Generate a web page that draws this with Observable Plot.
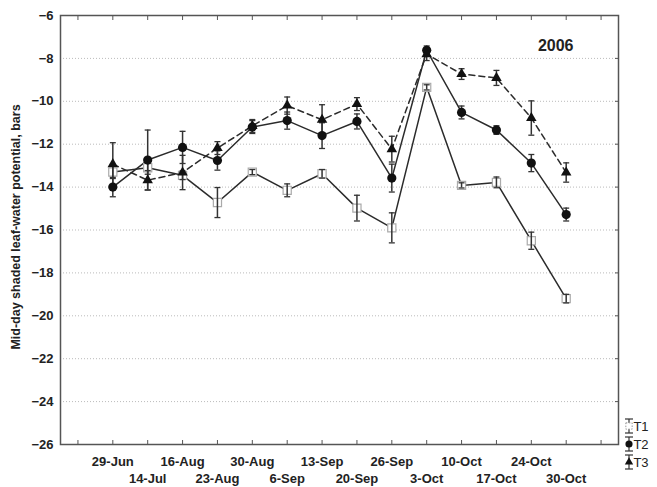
<!DOCTYPE html>
<html><head><meta charset="utf-8">
<script src="https://cdn.jsdelivr.net/npm/d3@7"></script>
<script src="https://cdn.jsdelivr.net/npm/@observablehq/plot@0.6"></script>
<style>
body{margin:0;background:#fff;}
#chart{position:relative;width:657px;height:487px;}
</style>
</head><body><div id="chart"></div>
<script>
const dates = ["29-Jun","14-Jul","16-Aug","23-Aug","30-Aug","6-Sep","13-Sep","20-Sep","26-Sep","3-Oct","10-Oct","17-Oct","24-Oct","30-Oct"];
const t1Mean = [-13.3,-13.1,-13.45,-14.72,-13.3,-14.15,-13.38,-14.98,-15.9,-9.35,-13.92,-13.78,-16.5,-19.2];
const t1Err  = [0.3,0.3,0.2,0.7,0.12,0.3,0.2,0.6,0.7,0.12,0.12,0.25,0.4,0.2];
const t2Mean = [-14.0,-12.74,-12.15,-12.76,-11.2,-10.9,-11.6,-10.94,-13.58,-7.62,-10.52,-11.34,-12.88,-15.28];
const t2Err  = [0.45,1.4,0.75,0.45,0.3,0.4,0.6,0.35,0.65,0.2,0.3,0.2,0.4,0.3];
const t3Mean = [-12.93,-13.68,-13.32,-12.18,-11.15,-10.2,-10.86,-10.13,-12.23,-7.8,-8.73,-8.91,-10.78,-13.32];
const t3Err  = [1.0,0.45,0.8,0.3,0.3,0.4,0.7,0.3,0.6,0.3,0.25,0.35,0.8,0.45];
const seriesNames = ["T1","T2","T3"];
const yTicks = [-26,-24,-22,-20,-18,-16,-14,-12,-10,-8,-6];
const yLabel = "Mid-day shaded leaf-water potential, bars";
const yearLabel = "2006";

const means = [t1Mean, t2Mean, t3Mean];
const errs = [t1Err, t2Err, t3Err];
const rows = seriesNames.flatMap((s, k) => means[k].map((v, i) => ({
  series: s, i: i + 1, date: dates[i], v, lo: v - errs[k][i], hi: v + errs[k][i]
})));
const bySeries = s => rows.filter(d => d.series === s);
const allIdx = d3.range(0, dates.length + 2);
const row1 = dates.map((d, i) => i + 1).filter(i => i % 2 === 1);
const row2 = dates.map((d, i) => i + 1).filter(i => i % 2 === 0);
const capSym = {draw(ctx) { ctx.moveTo(-3, 0); ctx.lineTo(3, 0); }};
const lineColor = "#2b2b2b";

const chart = Plot.plot({
  width: 657, height: 487,
  marginLeft: 60, marginRight: 39, marginTop: 15, marginBottom: 43,
  style: {fontFamily: "'Liberation Sans', Arial, sans-serif", fontSize: "13px", color: "#222", background: "#fff"},
  x: {type: "linear", domain: [-0.5, dates.length + 1.5]},
  y: {domain: [-26, -6]},
  marks: [
    Plot.gridY(yTicks.slice(1, -1), {stroke: "#bbb", strokeOpacity: 1, strokeDasharray: "1,2"}),
    Plot.axisY(yTicks, {tickSize: 0, tickPadding: 7, fontWeight: "bold", fontSize: 13, label: null}),
    Plot.axisY(yTicks, {anchor: "right", tickSize: -4, text: null, label: null, stroke: "#555"}),
    Plot.axisX(allIdx, {tickSize: -4, text: null, label: null, stroke: "#555"}),
    Plot.axisX(allIdx, {anchor: "top", tickSize: -4, text: null, label: null, stroke: "#555"}),
    Plot.axisX(row1, {tickSize: 0, tickPadding: 12, tickFormat: i => dates[i - 1], fontWeight: "bold", fontSize: 13, label: null}),
    Plot.axisX(row2, {tickSize: 0, tickPadding: 29, tickFormat: i => dates[i - 1], fontWeight: "bold", fontSize: 13, label: null}),
    Plot.text([yLabel], {frameAnchor: "left", textAnchor: "middle", lineAnchor: "middle", rotate: -90, dx: -45, dy: -3, fontWeight: "bold", fontSize: 12.5, fill: "#222"}),
    Plot.text([yearLabel], {frameAnchor: "top-right", textAnchor: "end", lineAnchor: "middle", dx: -45, dy: 30, fontWeight: "bold", fontSize: 16, fill: "#222"}),
    Plot.line(bySeries("T1"), {x: "i", y: "v", stroke: lineColor, strokeWidth: 1.5}),
    Plot.line(bySeries("T2"), {x: "i", y: "v", stroke: lineColor, strokeWidth: 1.5}),
    Plot.line(bySeries("T3"), {x: "i", y: "v", stroke: lineColor, strokeWidth: 1.5, strokeDasharray: "6,4"}),
    Plot.dot(bySeries("T1"), {x: "i", y: "v", symbol: "square", r: 4.6, fill: "#fff", stroke: "#aaa", strokeWidth: 1.2}),
    Plot.ruleX(rows, {x: "i", y1: "lo", y2: "hi", stroke: "#333", strokeWidth: 1.5}),
    Plot.dot(rows, {x: "i", y: "lo", symbol: capSym, stroke: "#333", strokeWidth: 1.3}),
    Plot.dot(rows, {x: "i", y: "hi", symbol: capSym, stroke: "#333", strokeWidth: 1.3}),
    Plot.dot(bySeries("T2"), {x: "i", y: "v", symbol: "circle", r: 4.6, fill: "#111", stroke: "none"}),
    Plot.dot(bySeries("T3"), {x: "i", y: "v", symbol: "triangle", r: 3.9, fill: "#111", stroke: "none"}),
    Plot.frame({stroke: "#555", strokeWidth: 1.5})
  ]
});
document.getElementById("chart").appendChild(chart);

// legend (beside the frame, bottom-right)
const svg = d3.select(chart);
const lg = svg.append("g").attr("transform", "translate(629,426)");
seriesNames.forEach((s, k) => {
  const g = lg.append("g").attr("transform", `translate(0,${k * 18})`);
  g.append("line").attr("y1", -7).attr("y2", 7).attr("stroke", "#333").attr("stroke-width", 1.2);
  g.append("line").attr("x1", -4).attr("x2", 4).attr("y1", -7).attr("y2", -7).attr("stroke", "#333").attr("stroke-width", 1.2);
  g.append("line").attr("x1", -4).attr("x2", 4).attr("y1", 7).attr("y2", 7).attr("stroke", "#333").attr("stroke-width", 1.2);
  const sym = [d3.symbolSquare, d3.symbolCircle, d3.symbolTriangle][k];
  g.append("path").attr("d", d3.symbol(sym, k === 2 ? 30 : 40)())
    .attr("fill", k === 0 ? "#fff" : "#111")
    .attr("stroke", k === 0 ? "#999" : "none")
    .attr("stroke-dasharray", k === 0 ? "1.5,1.5" : null);
  g.append("text").attr("x", 12).attr("dy", "0.35em").attr("font-size", 13)
    .attr("font-family", "'Liberation Sans', Arial, sans-serif").attr("fill", "#222").text(s);
});
</script>
</body></html>
